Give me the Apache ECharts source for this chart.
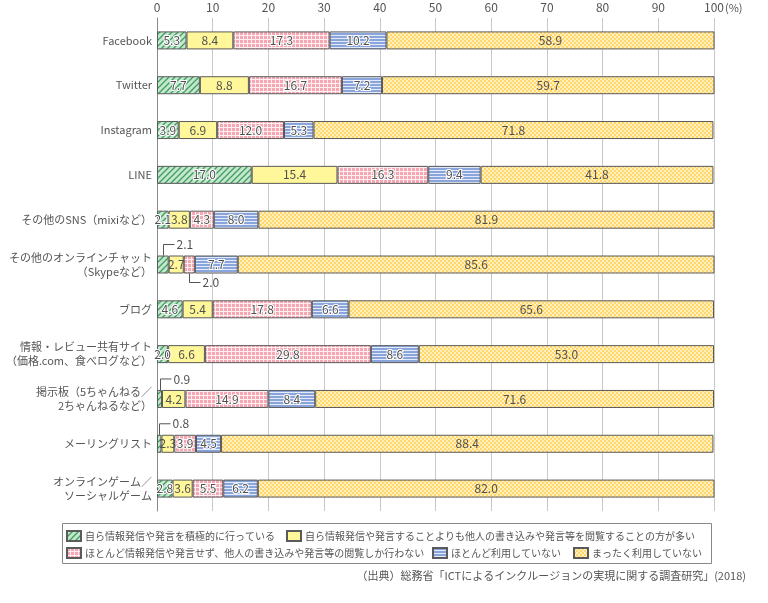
<!DOCTYPE html>
<html><head><meta charset="utf-8">
<script src="https://cdn.jsdelivr.net/npm/echarts@6/dist/echarts.min.js"></script>
<style>html,body{margin:0;padding:0;background:#fff}#c{width:768px;height:603px}</style>
</head><body><div id="c"></div>
<script>
const categories = ['Facebook','Twitter','Instagram','LINE','その他のSNS（mixiなど）','その他のオンラインチャット\n（Skypeなど）','ブログ','情報・レビュー共有サイト\n（価格.com、食べログなど）','掲示板（5ちゃんねる／\n2ちゃんねるなど）','メーリングリスト','オンラインゲーム／\nソーシャルゲーム'];
const seriesNames = ['自ら情報発信や発言を積極的に行っている','自ら情報発信や発言することよりも他人の書き込みや発言等を閲覧することの方が多い','ほとんど情報発信や発言せず、他人の書き込みや発言等の閲覧しか行わない','ほとんど利用していない','まったく利用していない'];
const active   = [5.3, 7.7, 3.9, 17.0, 2.1, 2.1, 4.6, 2.0, 0.9, 0.8, 2.8];
const readMore = [8.4, 8.8, 6.9, 15.4, 3.8, 2.7, 5.4, 6.6, 4.2, 2.3, 3.6];
const readOnly = [17.3, 16.7, 12.0, 16.3, 4.3, 2.0, 17.8, 29.8, 14.9, 3.9, 5.5];
const rarely   = [10.2, 7.2, 5.3, 9.4, 8.0, 7.7, 6.6, 8.6, 8.4, 4.5, 6.2];
const never    = [58.9, 59.7, 71.8, 41.8, 81.9, 85.6, 65.6, 53.0, 71.6, 88.4, 82.0];
const xTicks = [0,10,20,30,40,50,60,70,80,90,100];
const values = [active, readMore, readOnly, rarely, never];
// labels drawn outside with leader lines: [seriesIndex, categoryIndex, direction]
const callouts = [[0,5,'up'],[2,5,'down'],[0,8,'up'],[0,9,'up']];

function pat(w,h,draw){const c=document.createElement('canvas');c.width=w;c.height=h;const g=c.getContext('2d');draw(g,w,h);return {image:c,repeat:'repeat'};}
const fills = [
  pat(6,6,(g)=>{g.fillStyle='#c4e7cd';g.fillRect(0,0,6,6);g.strokeStyle='#3f9f62';g.lineWidth=1.3;
    [[-3,3,3,-3],[0,6,6,0],[3,9,9,3]].forEach(l=>{g.beginPath();g.moveTo(l[0],l[1]);g.lineTo(l[2],l[3]);g.stroke();});}),
  '#fff799',
  pat(4,4,(g)=>{g.fillStyle='#fdeef0';g.fillRect(0,0,4,4);g.fillStyle='#f5a8b4';g.fillRect(0,0,3,3);}),
  pat(3,3,(g)=>{g.fillStyle='#e2eaf8';g.fillRect(0,0,3,3);g.fillStyle='#8aa5dc';g.fillRect(0,0,3,2);}),
  pat(4,4,(g)=>{g.fillStyle='#fff0bf';g.fillRect(0,0,4,4);g.fillStyle='#ffd76a';g.fillRect(0,0,2,2);g.fillRect(2,2,2,2);})
];
const outlined = [true,false,true,true,false];
const FONT = 'Noto Sans CJK JP';

const series = values.map((arr,si)=>({
  name: seriesNames[si], type:'bar', stack:'t', barWidth:18,
  itemStyle:{color:fills[si], borderColor:'#5a5a5a', borderWidth:1},
  label:{show:true, position:'inside', color:'#505050', fontSize:12, fontFamily:FONT,
    textBorderColor: outlined[si]?'#fff':'transparent', textBorderWidth: outlined[si]?2:0,
    formatter:(p)=>Number(p.value).toFixed(1)},
  emphasis:{disabled:true},
  data: arr.map((v,ci)=>{
    const co = callouts.find(c=>c[0]===si && c[1]===ci);
    return co ? {value:v, label:{show:false}} : v;
  })
}));

const legendPos = [[66,530],[286,530],[66,547],[432,547],[573,547]];
const legends = seriesNames.map((n,i)=>({
  data:[n], left:legendPos[i][0], top:legendPos[i][1], itemWidth:14, itemHeight:10, itemGap:4,
  icon:'rect', selectedMode:false, padding:0,
  textStyle:{fontSize:10, color:'#555', fontFamily:FONT, padding:[0,0,0,-1]}
}));

const chart = echarts.init(document.getElementById('c'), null, {renderer:'canvas'});
chart.setOption({
  animation:false,
  grid:{left:157, right:54, top:18, height:493, containLabel:false, outerBoundsMode:'none'},
  xAxis:{type:'value', position:'top', min:0, max:100, interval:10,
    axisLine:{show:false}, axisTick:{show:false},
    axisLabel:{color:'#555', fontSize:12, fontFamily:FONT, margin:5, formatter:(v)=>xTicks.includes(v)?String(v):''},
    splitLine:{lineStyle:{color:'#c8c8c8', width:1}}
  },
  yAxis:{type:'category', data:categories, inverse:true,
    axisLine:{lineStyle:{color:'#8a8a8a'}}, axisTick:{show:false},
    axisLabel:{color:'#555', fontSize:11, fontFamily:FONT, margin:5, lineHeight:14, align:'right'}
  },
  legend: legends,
  series: series,
  graphic:[]
});

const gfx = [];
gfx.push({type:'rect', shape:{x:62.5, y:523.5, width:649, height:40}, style:{fill:'none', stroke:'#888', lineWidth:1}, z:-1});
callouts.forEach(([si,ci,dir])=>{
  let start=0; for(let k=0;k<si;k++) start+=values[k][ci];
  const mid = start + values[si][ci]/2;
  const p = chart.convertToPixel({gridIndex:0},[mid, ci]);
  const x = Math.round(p[0])+0.5;
  const edge = dir==='up' ? p[1]-9 : p[1]+9;
  const elbow = dir==='up' ? p[1]-20 : p[1]+18;
  gfx.push({type:'polyline', shape:{points:[[x,edge],[x,elbow],[x+11,elbow]]}, style:{stroke:'#555', lineWidth:1, fill:null}});
  gfx.push({type:'text', x:x+13, y:elbow, style:{text:values[si][ci].toFixed(1), fill:'#505050', font:'12px "'+FONT+'"', textAlign:'left', textVerticalAlign:'middle'}});
});
const p100 = chart.convertToPixel({gridIndex:0},[xTicks[xTicks.length-1], 0]);
gfx.push({type:'text', x:p100[0]+11, y:8, style:{text:'(%)', fill:'#555', font:'11px "'+FONT+'"', textAlign:'left', textVerticalAlign:'middle'}});
gfx.push({type:'text', right:22, top:570, style:{text:'（出典）総務省「ICTによるインクルージョンの実現に関する調査研究」(2018)', fill:'#555', font:'11px "'+FONT+'"'}});
chart.setOption({graphic:gfx});
</script></body></html>
